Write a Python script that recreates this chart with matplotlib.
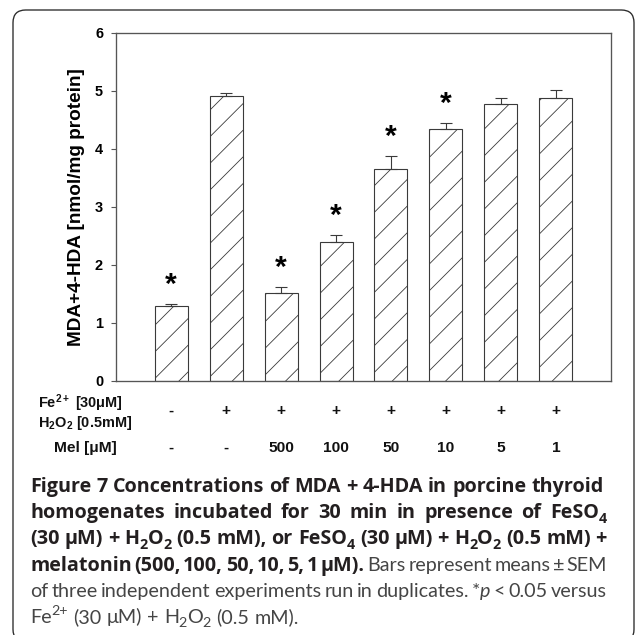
import re
import matplotlib
matplotlib.use("Agg")
import matplotlib.pyplot as plt
from matplotlib.patches import FancyBboxPatch
import matplotlib.transforms as mtransforms

# ---------------- data ----------------
fe_h2o2 = ["-", "+", "+", "+", "+", "+", "+", "+"]
mel = ["-", "-", "500", "100", "50", "10", "5", "1"]
means = [1.29, 4.91, 1.51, 2.39, 3.65, 4.35, 4.77, 4.88]
sems = [0.03, 0.05, 0.10, 0.12, 0.22, 0.10, 0.10, 0.13]
significant = [True, False, True, True, True, True, False, False]
yticks = [0, 1, 2, 3, 4, 5, 6]

W = H = 635
DPI = 80

def pt(px):
    return px * 72.0 / DPI

plt.rcParams['hatch.linewidth'] = 0.75
plt.rcParams['mathtext.default'] = 'regular'

fig = plt.figure(figsize=(W / DPI, H / DPI), dpi=DPI)

def fx(px):
    return px / W

def fy(py):
    return 1 - py / H

# outer rounded frame
frame = FancyBboxPatch((fx(13), fy(642)), fx(634) - fx(13), fy(10) - fy(642),
                       boxstyle="round,pad=0,rounding_size=0.02",
                       transform=fig.transFigure, fill=False,
                       edgecolor="#2b2b2b", linewidth=1.2, clip_on=False)
fig.patches.append(frame)

ax = fig.add_axes([fx(116), fy(380.7), fx(611) - fx(116), fy(33) - fy(380.7)])
x = list(range(len(means)))
ax.bar(x, means, width=0.6, color="white", edgecolor="#3a3a3a",
       linewidth=1.0, hatch="/", zorder=2)
ax.errorbar(x, means, yerr=[[0] * len(sems), sems], fmt="none",
            ecolor="#3a3a3a", elinewidth=1.0, capsize=pt(6), capthick=1.0, zorder=3)
ax.set_xlim(-1, 8)
ax.set_ylim(0, 6)
ax.set_yticks(yticks)
ax.set_yticklabels([str(t) for t in yticks])
ax.set_xticks([])
for s in ax.spines.values():
    s.set_color("#555555")
    s.set_linewidth(1.2)
ax.tick_params(axis="y", direction="out", length=pt(5), width=1.0, color="#555555",
               pad=pt(8), labelsize=pt(14.5))
for lab in ax.get_yticklabels():
    lab.set_fontfamily("Liberation Sans")
    lab.set_fontweight("bold")
ax.set_ylabel("MDA+4-HDA [nmol/mg protein]", fontfamily="Liberation Sans",
              fontweight="bold", fontsize=pt(19), labelpad=pt(10))

for xi, m, e, sig in zip(x, means, sems, significant):
    if sig:
        ax.annotate("*", (xi, m + e), xytext=(0, pt(5)), textcoords="offset points",
                    ha="center", va="bottom", fontsize=pt(30), fontweight="bold",
                    fontfamily="Liberation Sans")

# condition rows
trans = mtransforms.blended_transform_factory(ax.transData, fig.transFigure)
chart_font = dict(fontfamily="Liberation Sans", fontweight="bold", color="#111111")
for xi, s in zip(x, fe_h2o2):
    fig.text(xi, fy(411), s, transform=trans, ha="center", va="center",
             fontsize=pt(15.5), **chart_font)
for xi, s in zip(x, mel):
    fig.text(xi, fy(448), s, transform=trans, ha="center", va="center",
             fontsize=pt(15.5), **chart_font)
fig.text(fx(38), fy(403), "Fe$^{2+}$ [30\u03bcM]", ha="left", va="center",
         fontsize=pt(14.5), **chart_font)
fig.text(fx(38), fy(423), "H$_2$O$_2$ [0.5mM]", ha="left", va="center",
         fontsize=pt(14.5), **chart_font)
fig.text(fx(85), fy(448), "Mel [\u03bcM]", ha="center", va="center",
         fontsize=pt(15.5), **chart_font)

# ---------------- caption ----------------
BOLD = dict(fontweight="bold", color="#231f20", family=["Open Sans", "DejaVu Sans"])
REG = dict(fontweight="normal", color="#454545", family=["Lato", "DejaVu Sans"])
ITAL = dict(fontweight="normal", style="italic", color="#454545", family=["Lato", "DejaVu Sans"])

def words_of(text, style):
    return [(w, style) for w in text.split(" ")]

caption_lines = [
    (words_of("Figure 7 Concentrations of MDA + 4-HDA in porcine thyroid", BOLD), False),
    (words_of("homogenates incubated for 30 min in presence of FeSO_{4}", BOLD), True),
    (words_of("(30 \u03bcM) + H_{2}O_{2} (0.5 mM), or FeSO_{4} (30 \u03bcM) + H_{2}O_{2} (0.5 mM) +", BOLD), True),
    (words_of("melatonin (500, 100, 50, 10, 5, 1 \u03bcM).", BOLD) +
     words_of("Bars represent means \u00b1 SEM", REG), True),
    (words_of("of three independent experiments run in duplicates. *", REG)[:-1] +
     [("*~p", REG)] + words_of("< 0.05 versus", REG), True),
    (words_of("Fe^{2+} (30 \u03bcM) + H_{2}O_{2} (0.5 mM).", REG), False),
]
left_px, right_px = 30, 607
base0, lead = 492, 26.2

fig.canvas.draw()
renderer = fig.canvas.get_renderer()

def parse(word, style):
    """split a word into (text, style, kind) pieces: kind None / 'sub' / 'sup'."""
    pieces = []
    for m in re.finditer(r"_\{([^}]*)\}|\^\{([^}]*)\}|~(.)|([^_^~]+)", word):
        if m.group(1) is not None:
            pieces.append((m.group(1), style, "sub"))
        elif m.group(2) is not None:
            pieces.append((m.group(2), style, "sup"))
        elif m.group(3) is not None:
            pieces.append((m.group(3), ITAL, None))
        else:
            pieces.append((m.group(4), style, None))
    return pieces

def piece_size(kind, size):
    return size * (0.72 if kind else 1.0)

def text_width(txt, style, size):
    t = fig.text(0, 0, txt, fontsize=size, **style)
    w = t.get_window_extent(renderer).width
    t.remove()
    return w

def word_width(word, style, size):
    return sum(text_width(s, st, piece_size(k, size)) for s, st, k in parse(word, style))

def line_width(words, size):
    sp = text_width("a b", BOLD, size) - text_width("ab", BOLD, size)
    return sum(word_width(w, st, size) for w, st in words) + sp * (len(words) - 1)

ref_size = 12.0
cap_size = ref_size * (right_px - left_px) / line_width(caption_lines[0][0], ref_size)
space_w = text_width("a b", BOLD, cap_size) - text_width("ab", BOLD, cap_size)
cap_px = cap_size * DPI / 72.0

for i, (words, justify) in enumerate(caption_lines):
    yb = base0 + i * lead
    widths = [word_width(w, st, cap_size) for w, st in words]
    total = sum(widths)
    if justify and len(words) > 1:
        gap = (right_px - left_px - total) / (len(words) - 1)
    else:
        gap = space_w
    xp = left_px
    for (w, st), ww in zip(words, widths):
        xs = xp
        for s, pst, kind in parse(w, st):
            sz = piece_size(kind, cap_size)
            dy = {None: 0, "sub": 0.22 * cap_px, "sup": -0.42 * cap_px}[kind]
            fig.text(fx(xs), fy(yb + dy), s, fontsize=sz, ha="left",
                     va="baseline", **pst)
            xs += text_width(s, pst, sz)
        xp += ww + gap

fig.savefig("out.png", dpi=DPI)
